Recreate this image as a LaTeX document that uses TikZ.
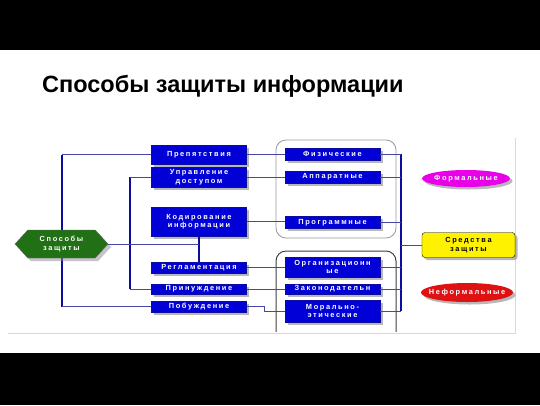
\documentclass[tikz,border=0pt]{standalone}
\usepackage{fontspec}
\setmainfont{Liberation Sans}
\newfontfamily\boxfont{Liberation Sans}[LetterSpace=22]
\usetikzlibrary{shapes.geometric,shapes.symbols,shadows}
\definecolor{boxblue}{RGB}{0,0,215}
\definecolor{busblue}{RGB}{12,12,160}
\definecolor{linkblue}{RGB}{70,70,165}
\definecolor{hexgreen}{RGB}{34,112,22}
\definecolor{ovmagenta}{RGB}{232,0,232}
\definecolor{ovred}{RGB}{222,18,18}
\begin{document}
\begin{tikzpicture}[x=1pt,y=-1pt]
    \tikzstyle{blok}=[rectangle,draw=busblue,fill=boxblue,text=white,inner sep=0pt,
        minimum width=95pt,align=center,font=\boxfont\bfseries\fontsize{7.4}{8.5}\selectfont,
        drop shadow={shadow xshift=2.5pt,shadow yshift=-2.5pt,fill=black!55}]
    \tikzstyle{oval}=[ellipse,draw=none,inner sep=0pt,text=white,
        font=\boxfont\bfseries\fontsize{7.4}{8.5}\selectfont,
        drop shadow={shadow xshift=2.5pt,shadow yshift=-2.5pt,fill=black!55}]
    \tikzstyle{bus}=[draw=busblue,line width=1.6pt]
    \tikzstyle{link}=[draw=linkblue,line width=0.8pt]
    \useasboundingbox (0,0) rectangle (540,405);
    \fill[white] (0,0) rectangle (540,405);
    \fill[black] (0,0) rectangle (540,50);
    \fill[black] (0,353) rectangle (540,405);
    \draw[black!15,line width=0.6pt] (8,333) -- (515,333) -- (515,138);

    \node[anchor=base west,inner sep=0pt,font=\bfseries\fontsize{23.5}{26}\selectfont] (titel) at (42,92)
        {Способы защиты информации};

    % group frames
    \draw[black!40,line width=0.8pt,rounded corners=10pt] (276,140) rectangle (396,238);
    \begin{scope}
        \clip (260,245) rectangle (410,331);
        \draw[black!75,line width=1pt,rounded corners=10pt] (276,251) rectangle (396,345);
    \end{scope}

    % left column
    \node[blok,minimum height=19pt] (prep) at (199,154.5) {Препятствия};
    \node[blok,minimum height=20pt] (upr)  at (199,177)   {Управление\\доступом};
    \node[blok,minimum height=29pt] (kod)  at (199,221.5) {Кодирование\\информации};
    \node[blok,minimum height=11pt] (regl) at (199,267.5) {Регламентация};
    \node[blok,minimum height=10pt] (prin) at (199,289)   {Принуждение};
    \node[blok,minimum height=11pt] (pob)  at (199,306.5) {Побуждение};

    % middle column
    \node[blok,minimum height=12pt] (fiz)   at (332.5,154)   {Физические};
    \node[blok,minimum height=12pt] (appar) at (332.5,177)   {Аппаратные};
    \node[blok,minimum height=12pt] (prog)  at (332.5,222.5) {Программные};
    \node[blok,minimum height=20pt] (org)   at (332.5,267)   {Организационн\\ые};
    \node[blok,minimum height=10pt] (zakon) at (332.5,289)   {Законодательн};
    \node[blok,minimum height=22pt] (moral) at (332.5,311)   {Морально-\\этические};

    % right side
    \node[oval,fill=ovmagenta,minimum width=88pt,minimum height=17pt,inner xsep=-2pt] (form) at (466,178.5) {Формальные};
    \node[rectangle,rounded corners=3pt,draw=black,fill=yellow,inner sep=0pt,align=center,
        minimum width=93pt,minimum height=25pt,font=\boxfont\bfseries\fontsize{7.4}{8.5}\selectfont,
        drop shadow={shadow xshift=2.5pt,shadow yshift=-2.5pt,fill=black!55}] (sred) at (468.5,245)
        {Средства\\защиты};
    \node[oval,fill=ovred,minimum width=92pt,minimum height=19pt,inner xsep=-13pt] (neform) at (467,292.5) {Неформальные};

    % buses
    \coordinate (lbusA) at (62,245);
    \coordinate (lbusB) at (130,245);
    \coordinate (rbus)  at (401,245);
    \draw[bus] (lbusA |- prep.west) -- (lbusA |- pob.west);
    \draw[bus] (lbusB |- upr.west) -- (lbusB |- prin.west);
    \draw[bus] (rbus |- fiz.east) -- (rbus |- moral.east);
    \draw[bus] (kod.south) -- (regl.north);

    \draw[link] (lbusA |- prep.west) -- (prep.west);
    \draw[link] (lbusA |- pob.west) -- (pob.west);
    \draw[link] (lbusB |- upr.west) -- (upr.west);
    \draw[link] (lbusB |- prin.west) -- (prin.west);

    % hexagon
    \node[signal,signal to=west and east,signal pointer angle=95,draw=black!60,fill=hexgreen,
        text=white,inner sep=0pt,minimum width=93pt,minimum height=28pt,align=center,
        font=\boxfont\bfseries\fontsize{7.4}{8.5}\selectfont,
        drop shadow={shadow xshift=3pt,shadow yshift=-3pt,fill=black!45}] (sposob) at (61.5,244)
        {Способы\\защиты};
    \draw[link] (sposob.east) -- (kod.south |- sposob.east);

    % links between columns
    \draw[link] (prep.east) -- (prep.east -| fiz.west);
    \draw[link] (upr.east) -- (appar.west);
    \draw[link] (kod.east) -- (kod.east -| prog.west);
    \draw[link] (regl.east) -- (regl.east -| org.west);
    \draw[link] (prin.east) -- (zakon.west);
    \draw[link] (pob.east) -- ++(18,0) |- (moral.west);

    \foreach \n in {fiz,appar,prog,org,zakon,moral}
        \draw[link] (\n.east) -- (\n.east -| rbus);
    \draw[link] (rbus) -- (sred.west);
\end{tikzpicture}
\end{document}
